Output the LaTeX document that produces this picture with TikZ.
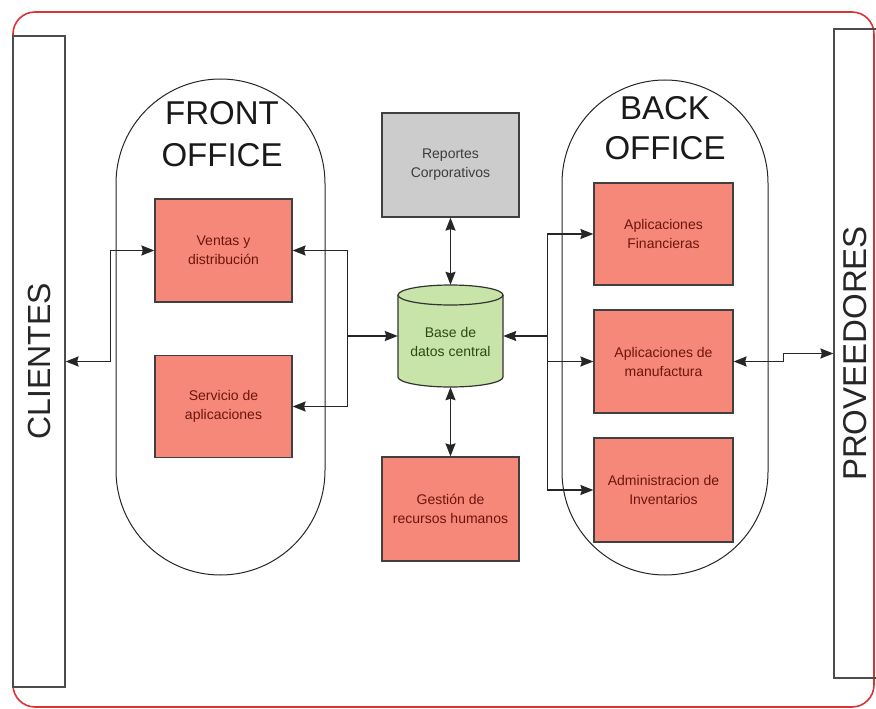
\documentclass[tikz,border=0pt]{standalone}
\usepackage{fontspec}
\setmainfont{Liberation Sans}
\usetikzlibrary{arrows.meta}
\definecolor{salmon}{RGB}{246,136,122}
\definecolor{salmontext}{RGB}{110,20,12}
\definecolor{greyfill}{RGB}{204,204,204}
\definecolor{greytext}{RGB}{60,60,60}
\definecolor{dbfill}{RGB}{200,228,168}
\definecolor{dbtext}{RGB}{40,75,20}
\definecolor{frame}{RGB}{220,50,50}
\tikzset{
  boxbase/.style={rectangle, draw=black!75, line width=1.2pt, minimum width=137pt, minimum height=103pt, align=center, font=\fontsize{14}{19}\selectfont, inner sep=2pt},
  salbox/.style={boxbase, fill=salmon, text=salmontext},
  greybox/.style={boxbase, fill=greyfill, text=greytext},
  sidebox/.style={rectangle, draw=black!70, line width=1.2pt, minimum width=52pt, font=\fontsize{33}{33}\selectfont, text=black!85, inner sep=0pt},
  title/.style={align=center, text=black!90, inner sep=0pt},
  stadium/.style={draw=black!85, line width=1pt},
  conn/.style={draw=black!85, line width=1.5pt, {Stealth[length=13pt,width=10pt,inset=1.5pt]}-{Stealth[length=13pt,width=10pt,inset=1.5pt]}},
  conn1/.style={draw=black!85, line width=1.5pt, -{Stealth[length=13pt,width=10pt,inset=1.5pt]}}
}
\begin{document}
\begin{tikzpicture}[x=1pt,y=-1pt]
\useasboundingbox (0,0) rectangle (876,709);
\fill[white] (0,0) rectangle (876,709);
% outer frame
\draw[frame, line width=1.6pt, rounded corners=22pt] (13,12) rectangle (874,707);

% side boxes
\node[sidebox, minimum height=651pt] (clientes) at (39,361.5) {};
\node[rotate=90, font=\fontsize{32}{32}\selectfont, text=black!85] (clientestxt) at (clientes.center) {CLIENTES};
\node[sidebox, minimum width=50pt, minimum height=649pt] (prov) at (859,353.5) {};
\node[rotate=90, font=\fontsize{33}{33}\selectfont, text=black!85] (provtxt) at (855,353.5) {PROVEEDORES};

% stadiums
\draw[stadium, rounded corners=104.5pt] (116,79) rectangle (325,575);
\draw[stadium, rounded corners=103pt] (562,80) rectangle (768,575);
\node[title, font=\fontsize{33}{42}\selectfont] (fronttitle) at (222,134) {FRONT\\OFFICE};
\node[title, font=\fontsize{33}{40}\selectfont] (backtitle) at (665,128) {BACK\\OFFICE};

% front office boxes
\node[salbox] (ventas) at (223.5,250.5) {Ventas y\\distribución};
\node[salbox, minimum height=102pt] (servicio) at (223.5,406.5) {Servicio de\\aplicaciones};

% center
\node[greybox, minimum height=104pt] (rep) at (450.5,165) {Reportes\\Corporativos};
\node[salbox, minimum height=104pt] (gest) at (450.5,509) {Gestión de\\recursos humanos};

% database cylinder
\node[rectangle, minimum width=105pt, minimum height=102pt, inner sep=0pt] (db) at (450.5,336) {};
\fill[dbfill] (398,295) -- (398,377) arc[start angle=180, end angle=360, x radius=52.5pt, y radius=10pt] -- (503,295) arc[start angle=0, end angle=180, x radius=52.5pt, y radius=10pt] -- cycle;
\draw[black!80, line width=1.2pt] (398,295) -- (398,377) arc[start angle=180, end angle=360, x radius=52.5pt, y radius=10pt] -- (503,295);
\draw[black!80, line width=1.2pt, fill=dbfill] (450.5,295) ellipse [x radius=52.5pt, y radius=10pt];
\node[align=center, font=\fontsize{14}{19}\selectfont, text=dbtext] (dbtxt) at (450.5,342) {Base de\\datos central};

% back office boxes
\node[salbox, minimum width=139pt, minimum height=102pt] (fin) at (663.5,234) {Aplicaciones\\Financieras};
\node[salbox, minimum width=139pt, minimum height=103pt] (man) at (663.5,361.5) {Aplicaciones de\\manufactura};
\node[salbox, minimum width=139pt, minimum height=104pt] (inv) at (663.5,490) {Administracion de\\Inventarios};

% junction coordinates
\coordinate (jl) at (347,336);
\coordinate (jr) at (548,336);
\coordinate (jrm) at (548,361.5);

% connectors
\draw[conn] (clientes.east) -- ++(45,0) |- (ventas.west);
\draw[conn] (ventas.east) -- ++(55,0) |- (servicio.east);
\draw[conn1] (jl) -- (db.west);
\draw[conn] (rep.south) -- (db.north);
\draw[conn] (db.south) -- (gest.north);
\draw[conn] (fin.west) -- ++(-46,0) |- (inv.west);
\draw[conn1] (jr) -- (db.east);
\draw[conn1] (jrm) -- (man.west);
\draw[conn] (man.east) -- ++(50,0) |- (prov.west);
\end{tikzpicture}
\end{document}
